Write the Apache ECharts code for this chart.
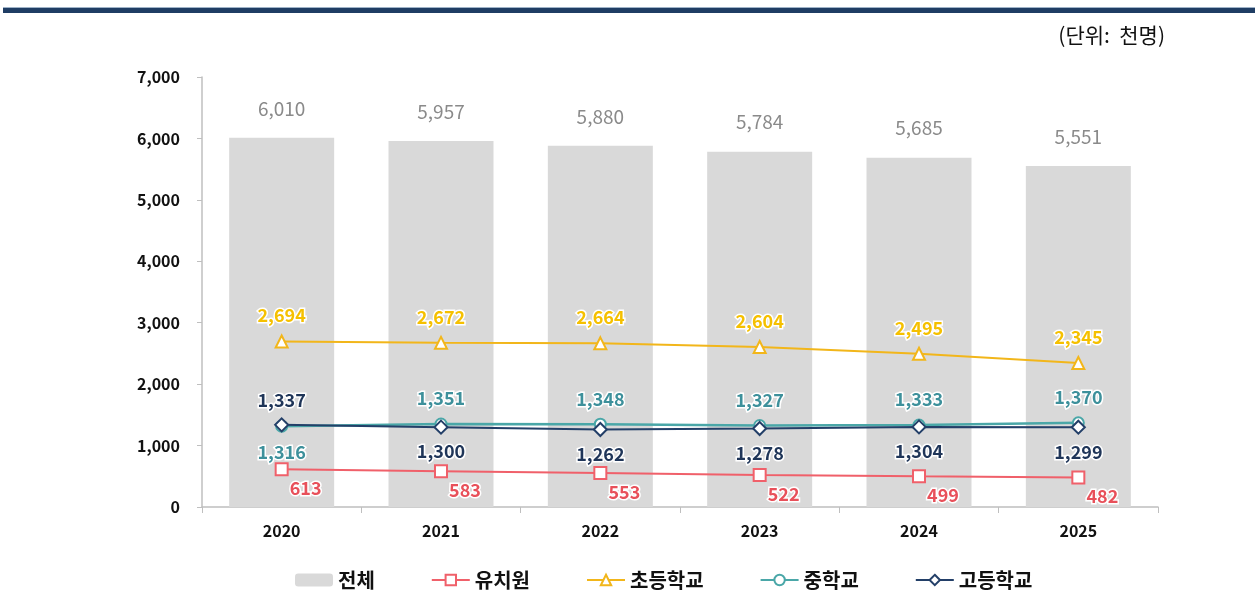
<!DOCTYPE html>
<html>
<head>
<meta charset="utf-8">
<script src="https://cdn.jsdelivr.net/npm/echarts@6/dist/echarts.min.js"></script>
<style>
  html, body { margin: 0; padding: 0; background: #fff; }
  #chart { width: 1255px; height: 601px; }
</style>
</head>
<body>
<div id="chart"></div>
<script>
// 연도별 학생 수 (단위: 천명)
const years = ['2020', '2021', '2022', '2023', '2024', '2025'];
const total = [6010, 5957, 5880, 5784, 5685, 5551];
const kinder = [613, 583, 553, 522, 499, 482];
const elem = [2694, 2672, 2664, 2604, 2495, 2345];
const middle = [1316, 1351, 1348, 1327, 1333, 1370];
const high = [1337, 1300, 1262, 1278, 1304, 1299];

const yTicks = [0, 1000, 2000, 3000, 4000, 5000, 6000, 7000];

const font = '"Noto Sans CJK KR", "Noto Sans", sans-serif';
const fmt = v => v.toLocaleString('en-US');

// 중학교는 2020만 아래, 고등학교는 2020만 위
const middleData = middle.map((v, i) => ({
  value: v,
  label: { position: i === 0 ? 'bottom' : 'top' }
}));
const highData = high.map((v, i) => ({
  value: v,
  label: { position: i === 0 ? 'top' : 'bottom' }
}));

function numLabel(color, pos, extra) {
  return Object.assign({
    show: true,
    position: pos,
    color: color,
    fontFamily: font,
    fontWeight: 'bold',
    fontSize: 18,
    textBorderColor: '#fff',
    textBorderWidth: 3,
    formatter: p => fmt(p.value)
  }, extra || {});
}

const chart = echarts.init(document.getElementById('chart'));

chart.setOption({
  animation: false,
  textStyle: { fontFamily: font },
  graphic: [
    { type: 'rect', shape: { x: 3, y: 7, width: 1252, height: 1 }, style: { fill: '#9fb3c8' } },
    { type: 'rect', shape: { x: 3, y: 8, width: 1252, height: 5 }, style: { fill: '#1f3d64' } },
    {
      type: 'text', right: 90, top: 25,
      style: { text: '(단위:  천명)', fontFamily: font, fontSize: 21, fill: '#111' }
    }
  ],
  grid: { left: 202, right: 97, top: 77, bottom: 94 },
  legend: {
    bottom: 6,
    left: 290,
    itemGap: 56,
    itemWidth: 38,
    itemHeight: 13,
    textStyle: { fontFamily: font, fontSize: 20, fontWeight: 'bold', color: '#111' },
    data: ['전체', '유치원', '초등학교', '중학교', '고등학교']
  },
  xAxis: {
    type: 'category',
    data: years,
    axisLine: { lineStyle: { color: '#bfbfbf', width: 1.5 } },
    axisTick: { show: true, length: 6, lineStyle: { color: '#bfbfbf' } },
    axisLabel: { color: '#111', fontSize: 16, fontWeight: 'bold', fontFamily: font, margin: 16 }
  },
  yAxis: {
    type: 'value',
    min: yTicks[0],
    max: yTicks[yTicks.length - 1],
    interval: 1000,
    splitLine: { show: false },
    axisLine: { show: true, lineStyle: { color: '#bfbfbf', width: 1.5 } },
    axisTick: { show: true, length: 5, lineStyle: { color: '#bfbfbf' } },
    axisLabel: { color: '#111', fontSize: 16, fontWeight: 'bold', fontFamily: font, margin: 22, formatter: v => fmt(v) }
  },
  series: [
    {
      name: '전체',
      type: 'bar',
      data: total,
      barWidth: 105,
      itemStyle: { color: '#d9d9d9' },
      label: {
        show: true, position: 'top', distance: 20,
        color: '#8a8a8a', fontSize: 19, fontFamily: font,
        formatter: p => fmt(p.value)
      }
    },
    {
      name: '유치원',
      type: 'line',
      data: kinder,
      symbol: 'rect',
      symbolSize: 12,
      lineStyle: { color: '#f0606a', width: 2 },
      itemStyle: { color: '#fff', borderColor: '#f0606a', borderWidth: 2 },
      label: numLabel('#e8505a', 'bottom', { offset: [24, 0], distance: 3 })
    },
    {
      name: '초등학교',
      type: 'line',
      data: elem,
      symbol: 'triangle',
      symbolSize: 12,
      lineStyle: { color: '#f2b61a', width: 2 },
      itemStyle: { color: '#fff', borderColor: '#f2b61a', borderWidth: 2 },
      label: numLabel('#f5c000', 'top', { distance: 10 })
    },
    {
      name: '중학교',
      type: 'line',
      data: middleData,
      symbol: 'circle',
      symbolSize: 11,
      lineStyle: { color: '#4aa7a8', width: 2.5 },
      itemStyle: { color: '#fff', borderColor: '#4aa7a8', borderWidth: 2 },
      label: numLabel('#3d909b', 'top', { distance: 10 })
    },
    {
      name: '고등학교',
      type: 'line',
      data: highData,
      symbol: 'diamond',
      symbolSize: 13,
      lineStyle: { color: '#233f68', width: 2 },
      itemStyle: { color: '#fff', borderColor: '#233f68', borderWidth: 2 },
      label: numLabel('#1f3558', 'bottom', { distance: 8 })
    }
  ]
});
</script>
</body>
</html>
